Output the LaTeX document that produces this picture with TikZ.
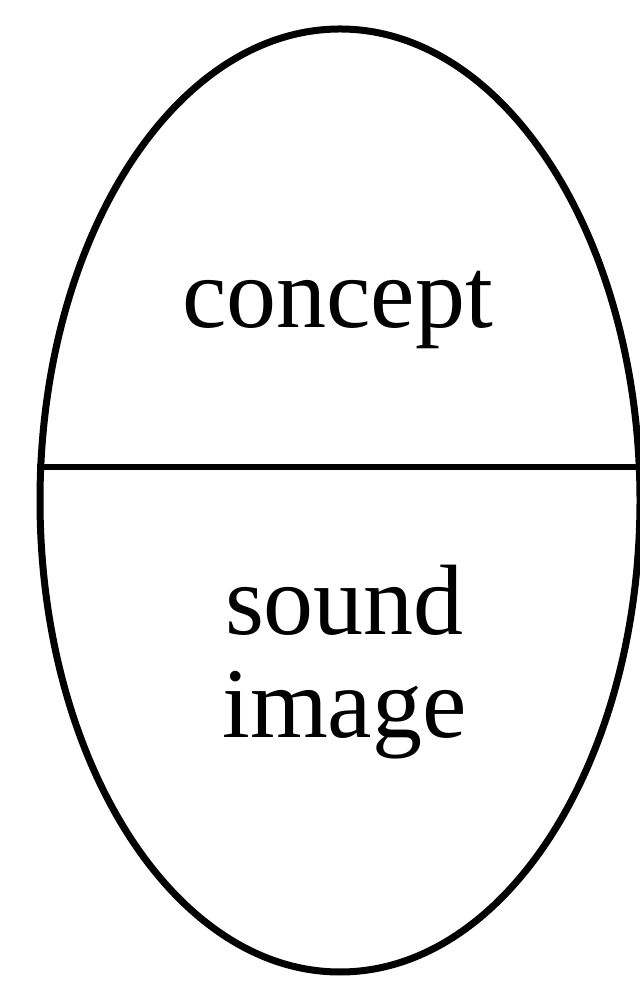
\documentclass[tikz,border=0pt]{standalone}
\usepackage{fontspec}
\setmainfont{Liberation Serif}
\usetikzlibrary{shapes.geometric}
\newcommand{\bigword}{\fontsize{100}{103}\selectfont}
\tikzset{
  signbox/.style={
    ellipse,
    draw=black,
    line width=7pt,
    inner sep=0pt,
    minimum width=600pt,
    minimum height=943pt
  },
  divider/.style={
    draw=black,
    line width=6pt
  },
  word/.style={
    font=\bigword,
    inner sep=0pt,
    align=center,
    anchor=base
  }
}
\begin{document}
\begin{tikzpicture}[x=1pt,y=1pt]
\useasboundingbox[fill=white] (0,0) rectangle (639,981);

% the sign: one oval, cut across by a bar
\node[signbox] (sign) at (340,480.5) {};
\coordinate (cut) at (639,514);
\draw[divider] (cut -| sign.west) -- (cut);

\node[word] (concept) at (337.5,653) {concept};
\node[word] (sound) at (344.5,243) {sound\\image};

\end{tikzpicture}
\end{document}
